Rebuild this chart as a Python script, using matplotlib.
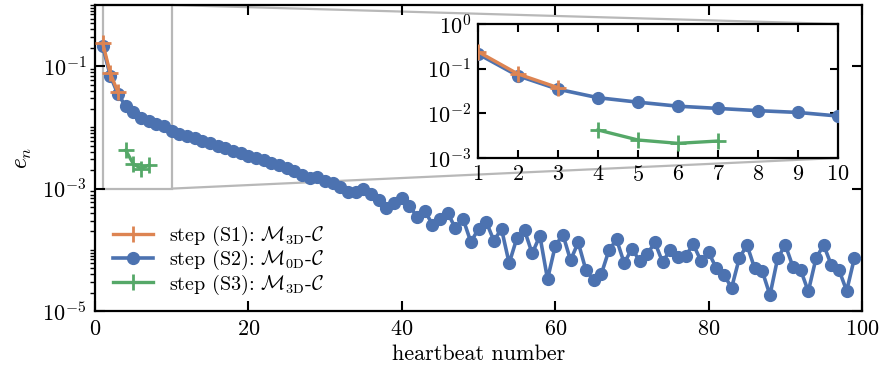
import numpy as np
import matplotlib
matplotlib.use("Agg")
import matplotlib.pyplot as plt
from matplotlib.patches import Rectangle, ConnectionPatch
from matplotlib.ticker import (FixedLocator, LogLocator, NullLocator, NullFormatter,
                               LogFormatterSciNotation)

plt.rcParams['font.family'] = ['cmr10', 'DejaVu Serif']
plt.rcParams['mathtext.fontset'] = 'cm'
plt.rcParams['axes.formatter.use_mathtext'] = True
plt.rcParams['axes.unicode_minus'] = True

# ---- data ----
s1_beats = [1, 2, 3]
s1_err = [0.24, 0.076, 0.0376]

s2_beats = list(range(1, 100))
s2_log10 = [-0.67, -1.16, -1.46, -1.65, -1.75, -1.84, -1.89, -1.94, -1.98, -2.06,
            -2.10, -2.14, -2.18, -2.22, -2.26, -2.30, -2.34, -2.38, -2.42, -2.46,
            -2.50, -2.54, -2.58, -2.62, -2.67, -2.72, -2.78, -2.83, -2.81, -2.88,
            -2.91, -2.98, -3.06, -3.05, -3.01, -3.09, -3.19, -3.32, -3.24, -3.16,
            -3.28, -3.46, -3.36, -3.59, -3.49, -3.40, -3.65, -3.50, -3.87, -3.66,
            -3.54, -3.85, -3.66, -4.22, -3.81, -3.68, -4.06, -3.77, -4.48, -3.94,
            -3.75, -4.17, -3.88, -4.33, -4.50, -4.40, -4.01, -3.83, -4.22, -3.98,
            -4.18, -4.07, -3.88, -4.20, -4.00, -4.12, -4.10, -3.91, -4.18, -4.04,
            -4.30, -4.41, -4.62, -4.14, -3.92, -4.30, -4.35, -4.74, -4.14, -3.92,
            -4.28, -4.33, -4.68, -4.14, -3.92, -4.25, -4.33, -4.67, -4.14]
s2_err = 10.0 ** np.array(s2_log10)

s3_beats = [4, 5, 6, 7]
s3_err = [0.00424, 0.00253, 0.00213, 0.0024]

labels = [r'step (S1): $\mathcal{M}_{\mathrm{3D}}$-$\mathcal{C}$',
          r'step (S2): $\mathcal{M}_{\mathrm{0D}}$-$\mathcal{C}$',
          r'step (S3): $\mathcal{M}_{\mathrm{3D}}$-$\mathcal{C}$']

c_orange = '#DD8452'
c_blue = '#4C72B0'
c_green = '#55A868'
c_gray = '#b8b8b8'

FS = 16
FS_LEG = 14.5

fig = plt.figure(figsize=(8.84, 3.76), dpi=100)
W, H = 884.0, 376.0
ax = fig.add_axes([95 / W, 1 - 311 / H, (862 - 95) / W, (311 - 5) / H])


def draw_series(a, ms_c=8.5, ms_p=11):
    a.plot(s2_beats, s2_err, '-o', color=c_blue, lw=2.6, ms=ms_c, zorder=3, label=labels[1])
    a.plot(s1_beats, s1_err, '-+', color=c_orange, lw=2.4, ms=ms_p, mew=2.0, zorder=4, label=labels[0])
    a.plot(s3_beats, s3_err, '-+', color=c_green, lw=2.4, ms=ms_p, mew=2.0, zorder=4, label=labels[2])


draw_series(ax)
ax.set_yscale('log')
ax.set_xlim(0, 100)
ax.set_ylim(1e-5, 1e0)
ax.set_xticks([0, 20, 40, 60, 80, 100])
ax.yaxis.set_major_locator(FixedLocator([1e-5, 1e-3, 1e-1]))
ax.yaxis.set_major_formatter(LogFormatterSciNotation())
ax.yaxis.set_minor_locator(LogLocator(base=10, subs=np.arange(1, 10), numticks=100))
ax.yaxis.set_minor_formatter(NullFormatter())
ax.tick_params(which='major', direction='in', length=7, width=1.5, top=True, right=True,
               labelsize=FS, pad=6)
ax.tick_params(which='minor', direction='out', length=3.5, width=1.0, left=True, right=False,
               top=False, bottom=False)
for s in ax.spines.values():
    s.set_linewidth(1.6)
ax.set_xlabel('heartbeat number', fontsize=FS, labelpad=4)
ax.set_ylabel(r'$e_n$', fontsize=FS + 1, labelpad=6)

h, l = ax.get_legend_handles_labels()
order = [1, 0, 2]
ax.legend([h[i] for i in order], [l[i] for i in order], loc='lower left', frameon=False,
          fontsize=FS_LEG, handlelength=2.0, labelspacing=0.0, handletextpad=0.75,
          bbox_to_anchor=(0.0, -0.012))

# zoom rectangle + connectors
ax.add_patch(Rectangle((1, 1e-3), 9, 1 - 1e-3, fill=False, ec=c_gray, lw=1.6, zorder=1,
                       clip_on=False))

axins = fig.add_axes([478 / W, 1 - 158 / H, 360 / W, 134 / H])
axins.set_facecolor('white')
draw_series(axins)
axins.set_yscale('log')
axins.set_xlim(1, 10)
axins.set_ylim(1e-3, 1e0)
axins.set_xticks(range(1, 11))
axins.yaxis.set_major_locator(FixedLocator([1e-3, 1e-2, 1e-1, 1e0]))
axins.yaxis.set_major_formatter(LogFormatterSciNotation())
axins.yaxis.set_minor_locator(NullLocator())
axins.tick_params(which='major', direction='in', length=6, width=1.5, top=True, right=True,
                  labelsize=FS, pad=5)
for s in axins.spines.values():
    s.set_linewidth(1.6)

for (xa, ya, xb, yb) in [(10, 1e0, 1, 1), (10, 1e-3, 1, 0)]:
    con = ConnectionPatch(xyA=(xa, ya), coordsA=ax.transData, xyB=(xb, yb),
                          coordsB=axins.transAxes, color=c_gray, lw=1.6, zorder=1)
    con.set_clip_on(False)
    ax.add_artist(con)

fig.savefig('out.png', dpi=100)
